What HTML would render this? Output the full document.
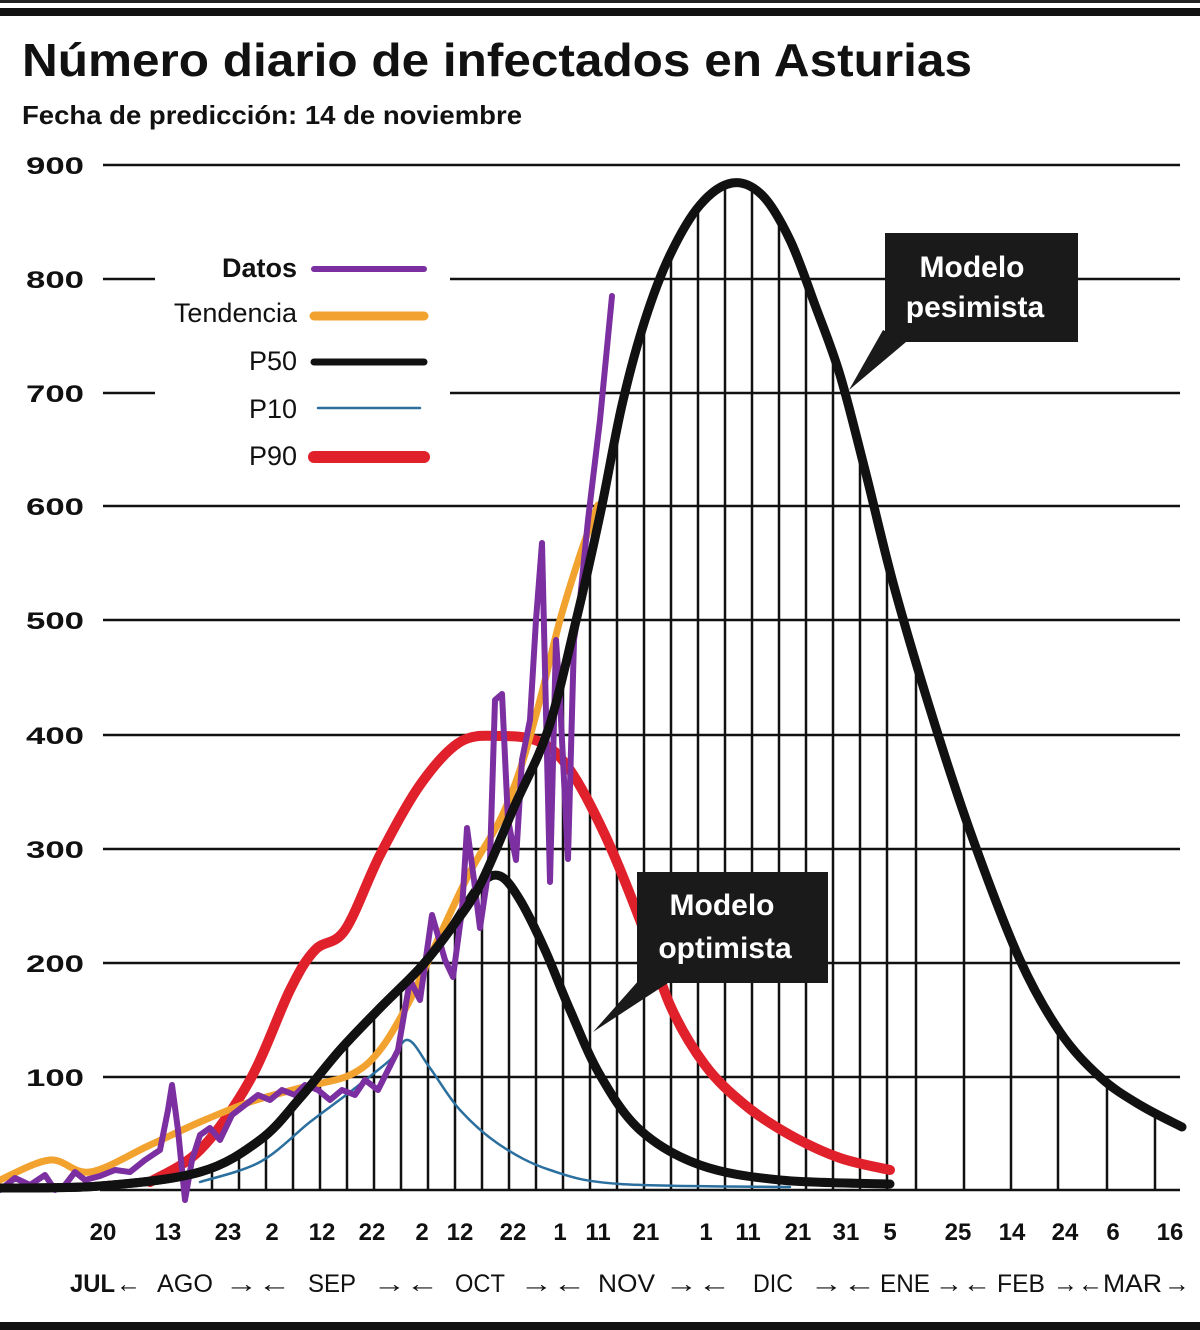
<!DOCTYPE html>
<html><head><meta charset="utf-8"><style>
html,body{margin:0;padding:0;background:#fff;}
svg{display:block;}
text{font-family:"Liberation Sans",sans-serif;}
</style></head><body>
<svg id="s" width="1200" height="1330" viewBox="0 0 1200 1330" xmlns="http://www.w3.org/2000/svg">
<rect width="1200" height="1330" fill="#fff"/>
<rect x="0" y="0" width="1200" height="3" fill="#222"/>
<rect x="0" y="8" width="1200" height="8" fill="#111"/>
<rect x="0" y="1322" width="1200" height="8" fill="#111"/>
<text x="22" y="76" font-size="46" font-weight="bold" fill="#111" textLength="950" lengthAdjust="spacingAndGlyphs">Número diario de infectados en Asturias</text>
<text x="22" y="124" font-size="26" font-weight="bold" fill="#111" textLength="500" lengthAdjust="spacingAndGlyphs">Fecha de predicción: 14 de noviembre</text>
<defs><clipPath id="under"><path id="clipP" d=""/></clipPath></defs>
<g id="vgrid" clip-path="url(#under)" stroke="#111" stroke-width="2.5"></g>
<g stroke="#111" stroke-width="2.5">
<line x1="103" y1="165" x2="1180" y2="165"/>
<line x1="103" y1="279" x2="155" y2="279"/><line x1="450" y1="279" x2="1180" y2="279"/>
<line x1="103" y1="393" x2="155" y2="393"/><line x1="450" y1="393" x2="1180" y2="393"/>
<line x1="103" y1="506" x2="1180" y2="506"/>
<line x1="103" y1="620" x2="1180" y2="620"/>
<line x1="103" y1="735" x2="1180" y2="735"/>
<line x1="103" y1="849" x2="1180" y2="849"/>
<line x1="103" y1="963" x2="1180" y2="963"/>
<line x1="103" y1="1077" x2="1180" y2="1077"/>
<line x1="100" y1="1190" x2="1180" y2="1190"/>
</g>
<g font-size="24" font-weight="bold" fill="#111" text-anchor="end">
<text x="84" y="174" textLength="58" lengthAdjust="spacingAndGlyphs">900</text>
<text x="84" y="288" textLength="58" lengthAdjust="spacingAndGlyphs">800</text>
<text x="84" y="402" textLength="58" lengthAdjust="spacingAndGlyphs">700</text>
<text x="84" y="515" textLength="58" lengthAdjust="spacingAndGlyphs">600</text>
<text x="84" y="629" textLength="58" lengthAdjust="spacingAndGlyphs">500</text>
<text x="84" y="744" textLength="58" lengthAdjust="spacingAndGlyphs">400</text>
<text x="84" y="858" textLength="58" lengthAdjust="spacingAndGlyphs">300</text>
<text x="84" y="972" textLength="58" lengthAdjust="spacingAndGlyphs">200</text>
<text x="84" y="1086" textLength="58" lengthAdjust="spacingAndGlyphs">100</text>
</g>
<g id="series" fill="none" stroke-linejoin="round" stroke-linecap="round"></g>
<g font-size="27" fill="#111" text-anchor="end">
<text x="297" y="277" font-weight="bold">Datos</text>
<text x="297" y="322">Tendencia</text>
<text x="297" y="370">P50</text>
<text x="297" y="418">P10</text>
<text x="297" y="465">P90</text>
</g>
<g stroke-linecap="round">
<line x1="314" y1="269" x2="424" y2="269" stroke="#7b2fa0" stroke-width="6"/>
<line x1="314" y1="316" x2="424" y2="316" stroke="#f2a22e" stroke-width="9"/>
<line x1="314" y1="362" x2="424" y2="362" stroke="#111" stroke-width="7"/>
<line x1="318" y1="408" x2="420" y2="408" stroke="#2a6f9e" stroke-width="2.5"/>
<line x1="314" y1="457" x2="424" y2="457" stroke="#e0202a" stroke-width="12"/>
</g>
<rect x="885" y="233" width="193" height="109" fill="#1a1a1a"/>
<polygon points="883,330 906,342 849,390" fill="#1a1a1a"/>
<text x="972" y="277" font-size="30" font-weight="bold" fill="#fff" text-anchor="middle">Modelo</text>
<text x="975" y="317" font-size="30" font-weight="bold" fill="#fff" text-anchor="middle">pesimista</text>
<rect x="637" y="872" width="191" height="111" fill="#1a1a1a"/>
<polygon points="648,970 668,983 593,1032" fill="#1a1a1a"/>
<text x="722" y="915" font-size="30" font-weight="bold" fill="#fff" text-anchor="middle">Modelo</text>
<text x="725" y="958" font-size="30" font-weight="bold" fill="#fff" text-anchor="middle">optimista</text>
<g font-size="24" font-weight="bold" fill="#111" text-anchor="middle">
<text x="103" y="1240">20</text><text x="168" y="1240">13</text><text x="228" y="1240">23</text>
<text x="272" y="1240">2</text><text x="322" y="1240">12</text><text x="372" y="1240">22</text>
<text x="422" y="1240">2</text><text x="460" y="1240">12</text><text x="513" y="1240">22</text>
<text x="560" y="1240">1</text><text x="598" y="1240">11</text><text x="646" y="1240">21</text>
<text x="706" y="1240">1</text><text x="748" y="1240">11</text><text x="798" y="1240">21</text>
<text x="846" y="1240">31</text><text x="890" y="1240">5</text><text x="958" y="1240">25</text>
<text x="1012" y="1240">14</text><text x="1065" y="1240">24</text><text x="1113" y="1240">6</text>
<text x="1170" y="1240">16</text>
</g>
<g font-size="25" fill="#111">
<text x="70" y="1292" font-weight="bold" textLength="45" lengthAdjust="spacingAndGlyphs">JUL</text>
<text x="116" y="1292">←</text>
<text x="157" y="1292" textLength="56" lengthAdjust="spacingAndGlyphs">AGO</text>
<text x="225" y="1292" textLength="66" lengthAdjust="spacingAndGlyphs">→←</text>
<text x="308" y="1292" textLength="48" lengthAdjust="spacingAndGlyphs">SEP</text>
<text x="373" y="1292" textLength="66" lengthAdjust="spacingAndGlyphs">→←</text>
<text x="455" y="1292" textLength="50" lengthAdjust="spacingAndGlyphs">OCT</text>
<text x="520" y="1292" textLength="66" lengthAdjust="spacingAndGlyphs">→←</text>
<text x="598" y="1292" textLength="57" lengthAdjust="spacingAndGlyphs">NOV</text>
<text x="665" y="1292" textLength="66" lengthAdjust="spacingAndGlyphs">→←</text>
<text x="753" y="1292" textLength="40" lengthAdjust="spacingAndGlyphs">DIC</text>
<text x="810" y="1292" textLength="66" lengthAdjust="spacingAndGlyphs">→←</text>
<text x="880" y="1292" textLength="50" lengthAdjust="spacingAndGlyphs">ENE</text>
<text x="935" y="1292" textLength="56" lengthAdjust="spacingAndGlyphs">→←</text>
<text x="997" y="1292" textLength="48" lengthAdjust="spacingAndGlyphs">FEB</text>
<text x="1053" y="1292" textLength="50" lengthAdjust="spacingAndGlyphs">→←</text>
<text x="1103" y="1292" textLength="59" lengthAdjust="spacingAndGlyphs">MAR</text>
<text x="1164" y="1292" textLength="26" lengthAdjust="spacingAndGlyphs">→</text>
</g>
</svg>
<script>
function smooth(p){let d="M"+p[0][0]+","+p[0][1];for(let i=0;i<p.length-1;i++){const p0=p[i-1]||p[i],p1=p[i],p2=p[i+1],p3=p[i+2]||p2;
const c1=[p1[0]+(p2[0]-p0[0])/6,p1[1]+(p2[1]-p0[1])/6],c2=[p2[0]-(p3[0]-p1[0])/6,p2[1]-(p3[1]-p1[1])/6];
d+=" C"+c1[0].toFixed(1)+","+c1[1].toFixed(1)+" "+c2[0].toFixed(1)+","+c2[1].toFixed(1)+" "+p2[0]+","+p2[1];}return d;}
const NS="http://www.w3.org/2000/svg";
const shared=[[0,1188],[100,1186],[200,1172],[260,1140],[300,1098],[340,1050],[380,1008],[420,968],[450,930],[480,885]];
const pess=shared.concat([[515,805],[548,730],[575,625],[600,515],[622,405],[645,320],[670,255],[700,205],[732,183],[762,195],[790,240],[815,305],[840,375],[865,470],[895,590],[935,725],[975,845],[1020,960],[1060,1032],[1100,1077],[1140,1105],[1182,1127]]);
const opt=shared.concat([[500,876],[520,900],[545,950],[570,1010],[600,1075],[640,1130],[700,1165],[780,1180],[890,1184]]);
const red=[[150,1182],[200,1150],[250,1080],[290,990],[315,950],[345,930],[380,855],[420,785],[460,742],[500,736],[540,742],[570,770],[605,835],[640,920],[670,1005],[705,1065],[745,1105],[790,1135],[840,1158],[890,1170]];
const blue=[[200,1182],[260,1162],[310,1122],[350,1092],[390,1060],[408,1040],[430,1068],[460,1110],[500,1145],[550,1170],[620,1184],[790,1187]];
const orange=[[0,1180],[50,1160],[90,1172],[150,1145],[200,1122],[250,1102],[300,1088],[350,1075],[380,1050],[410,1000],[440,935],[470,872],[500,820],[520,770],[540,700],[560,620],[580,555],[598,505]];
const purple=[[0,1190],[15,1178],[30,1185],[45,1175],[55,1190],[65,1185],[75,1172],[85,1180],[100,1176],[115,1170],[130,1172],[145,1160],[160,1150],[168,1110],[172,1085],[178,1130],[185,1200],[192,1160],[200,1135],[210,1128],[220,1140],[232,1115],[245,1105],[258,1095],[270,1100],[282,1090],[295,1095],[305,1085],[318,1090],[330,1100],[342,1090],[355,1095],[365,1080],[378,1090],[388,1070],[398,1050],[410,980],[420,1000],[432,915],[445,960],[453,977],[462,910],[467,828],[474,880],[480,928],[490,860],[495,700],[502,694],[508,820],[516,860],[522,760],[530,720],[536,620],[542,543],[550,882],[556,640],[560,700],[568,859],[574,640],[580,600],[588,520],[600,420],[612,296]];
function add(pts,col,w,sm){const e=document.createElementNS(NS,"path");e.setAttribute("d",sm?smooth(pts):"M"+pts.map(p=>p.join(",")).join(" L"));e.setAttribute("stroke",col);e.setAttribute("stroke-width",w);document.getElementById("series").appendChild(e);}
document.getElementById("clipP").setAttribute("d",smooth(pess)+" L1182,1192 L0,1192 Z");
const vg=document.getElementById("vgrid");
const xs=[];for(let i=0;i<26;i++)xs.push(212+i*27);xs.push(916,964,1011,1058,1107,1155);
xs.forEach(x=>{const l=document.createElementNS(NS,"line");l.setAttribute("x1",x);l.setAttribute("x2",x);l.setAttribute("y1",160);l.setAttribute("y2",1190);vg.appendChild(l);});
add(red,"#e0202a",10,true);
add(blue,"#2a6f9e",2.5,true);
add(orange,"#f2a22e",7,true);
add(opt,"#111",9,true);
add(purple,"#7b2fa0",6,false);
add(pess,"#111",9,true);
</script>
</body></html>
